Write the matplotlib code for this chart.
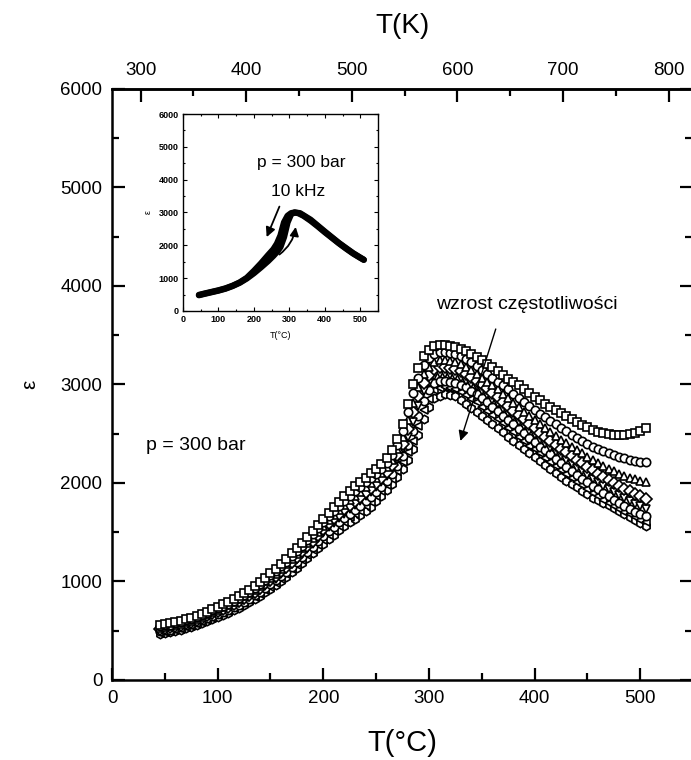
"""Dielectric permittivity vs temperature at p = 300 bar for several frequencies."""

import matplotlib
matplotlib.use("Agg")
import matplotlib.pyplot as plt
from matplotlib.ticker import MultipleLocator

plt.rcParams["font.family"] = ["Liberation Sans", "DejaVu Sans"]

INK = "black"

# temperature of the measurement points (deg C)
temp_c = [45, 50, 55, 60, 65, 70, 75, 80, 85, 90, 95, 100, 105, 110, 115, 120, 125, 130,
          135, 140, 145, 150, 155, 160, 165, 170, 175, 180, 185, 190, 195, 200, 205, 210,
          215, 220, 225, 230, 235, 240, 245, 250, 255, 260, 265, 270, 275, 280, 285, 290,
          295, 300, 305, 310, 315, 320, 325, 330, 335, 340, 345, 350, 355, 360, 365, 370,
          375, 380, 385, 390, 395, 400, 405, 410, 415, 420, 425, 430, 435, 440, 445, 450,
          455, 460, 465, 470, 475, 480, 485, 490, 495, 500, 505]

# permittivity, lowest frequency (top curve) to highest frequency (bottom curve)
eps_f1 = [560, 565, 575, 585, 600, 615, 630, 650, 670, 695,
          720, 745, 770, 795, 820, 850, 880, 915, 950, 995,
          1040, 1085, 1130, 1180, 1230, 1285, 1340, 1395, 1450, 1510,
          1570, 1635, 1700, 1755, 1810, 1865, 1920, 1965, 2010, 2055,
          2100, 2145, 2190, 2250, 2330, 2450, 2600, 2800, 3000, 3170,
          3290, 3350, 3390, 3400, 3400, 3395, 3380, 3360, 3340, 3310,
          3280, 3245, 3210, 3175, 3140, 3100, 3060, 3025, 2990, 2950,
          2910, 2875, 2840, 2805, 2770, 2740, 2710, 2680, 2650, 2620,
          2590, 2565, 2540, 2520, 2510, 2500, 2490, 2490, 2490, 2500,
          2510, 2530, 2560]
eps_f2 = [550, 555, 560, 575, 590, 605, 620, 640, 660, 685,
          710, 730, 750, 775, 800, 830, 860, 895, 930, 975,
          1020, 1065, 1110, 1155, 1200, 1255, 1310, 1365, 1420, 1480,
          1540, 1600, 1660, 1715, 1770, 1820, 1870, 1915, 1960, 2005,
          2050, 2095, 2140, 2200, 2280, 2390, 2530, 2720, 2910, 3070,
          3200, 3265, 3310, 3325, 3330, 3320, 3310, 3285, 3260, 3225,
          3190, 3150, 3110, 3070, 3030, 2990, 2950, 2905, 2860, 2820,
          2780, 2740, 2700, 2665, 2630, 2595, 2560, 2525, 2490, 2460,
          2430, 2400, 2370, 2345, 2320, 2300, 2280, 2265, 2250, 2235,
          2225, 2215, 2210]
eps_f3 = [530, 540, 550, 560, 570, 585, 600, 620, 640, 665,
          690, 715, 740, 765, 790, 820, 850, 880, 910, 955,
          1000, 1040, 1080, 1130, 1180, 1230, 1280, 1335, 1390, 1445,
          1500, 1560, 1620, 1675, 1730, 1780, 1830, 1870, 1910, 1955,
          2000, 2050, 2100, 2160, 2230, 2340, 2470, 2640, 2810, 2970,
          3110, 3180, 3230, 3245, 3250, 3240, 3230, 3205, 3180, 3145,
          3110, 3070, 3030, 2990, 2950, 2905, 2860, 2815, 2770, 2725,
          2680, 2640, 2600, 2560, 2520, 2480, 2440, 2405, 2370, 2335,
          2300, 2265, 2230, 2200, 2170, 2145, 2120, 2095, 2070, 2055,
          2040, 2025, 2010]
eps_f4 = [520, 530, 540, 550, 560, 575, 590, 610, 630, 655,
          680, 700, 720, 745, 770, 800, 830, 860, 890, 935,
          980, 1020, 1060, 1105, 1150, 1200, 1250, 1305, 1360, 1415,
          1470, 1530, 1590, 1640, 1690, 1735, 1780, 1820, 1860, 1905,
          1950, 2000, 2050, 2110, 2180, 2280, 2400, 2550, 2720, 2880,
          3020, 3100, 3160, 3175, 3180, 3170, 3160, 3135, 3110, 3075,
          3040, 3000, 2960, 2915, 2870, 2825, 2780, 2735, 2690, 2645,
          2600, 2555, 2510, 2470, 2430, 2390, 2350, 2310, 2270, 2235,
          2200, 2165, 2130, 2095, 2060, 2030, 2000, 1970, 1940, 1915,
          1890, 1865, 1840]
eps_f5 = [510, 520, 530, 540, 550, 565, 580, 600, 620, 640,
          660, 685, 710, 735, 760, 785, 810, 840, 870, 910,
          950, 990, 1030, 1080, 1130, 1180, 1230, 1280, 1330, 1385,
          1440, 1495, 1550, 1595, 1640, 1690, 1740, 1780, 1820, 1865,
          1910, 1960, 2010, 2070, 2140, 2230, 2340, 2470, 2620, 2780,
          2930, 3020, 3090, 3105, 3110, 3100, 3090, 3065, 3040, 3005,
          2970, 2930, 2890, 2845, 2800, 2755, 2710, 2665, 2620, 2575,
          2530, 2485, 2440, 2400, 2360, 2315, 2270, 2230, 2190, 2155,
          2120, 2080, 2040, 2005, 1970, 1940, 1910, 1880, 1850, 1820,
          1790, 1765, 1740]
eps_f6 = [500, 505, 510, 525, 540, 555, 570, 590, 610, 630,
          650, 670, 690, 715, 740, 765, 790, 825, 860, 895,
          930, 970, 1010, 1055, 1100, 1150, 1200, 1250, 1300, 1355,
          1410, 1460, 1510, 1555, 1600, 1645, 1690, 1730, 1770, 1815,
          1860, 1910, 1960, 2020, 2090, 2170, 2270, 2390, 2530, 2680,
          2830, 2940, 3020, 3035, 3040, 3030, 3020, 2995, 2970, 2935,
          2900, 2860, 2820, 2775, 2730, 2685, 2640, 2595, 2550, 2505,
          2460, 2415, 2370, 2330, 2290, 2245, 2200, 2160, 2120, 2080,
          2040, 2005, 1970, 1935, 1900, 1865, 1830, 1800, 1770, 1740,
          1710, 1685, 1660]
eps_f7 = [480, 490, 500, 510, 520, 535, 550, 570, 590, 610,
          630, 655, 680, 705, 730, 755, 780, 810, 840, 875,
          910, 945, 980, 1030, 1080, 1125, 1170, 1220, 1270, 1320,
          1370, 1420, 1470, 1515, 1560, 1605, 1650, 1685, 1720, 1765,
          1810, 1865, 1920, 1980, 2040, 2120, 2210, 2310, 2430, 2580,
          2740, 2850, 2940, 2960, 2970, 2960, 2950, 2920, 2890, 2855,
          2820, 2775, 2730, 2690, 2650, 2605, 2560, 2515, 2470, 2425,
          2380, 2340, 2300, 2255, 2210, 2170, 2130, 2090, 2050, 2015,
          1980, 1940, 1900, 1865, 1830, 1800, 1770, 1740, 1710, 1680,
          1650, 1625, 1600]
eps_f8 = [470, 480, 490, 500, 510, 525, 540, 560, 580, 600,
          620, 640, 660, 685, 710, 735, 760, 790, 820, 855,
          890, 925, 960, 1005, 1050, 1095, 1140, 1190, 1240, 1290,
          1340, 1385, 1430, 1475, 1520, 1560, 1600, 1635, 1670, 1715,
          1760, 1815, 1870, 1930, 1990, 2060, 2140, 2230, 2340, 2490,
          2650, 2770, 2860, 2885, 2900, 2895, 2880, 2845, 2800, 2760,
          2720, 2680, 2640, 2600, 2560, 2515, 2470, 2430, 2390, 2345,
          2300, 2260, 2220, 2180, 2140, 2100, 2060, 2025, 1990, 1955,
          1920, 1885, 1850, 1825, 1800, 1775, 1750, 1720, 1690, 1655,
          1620, 1590, 1560]
series = [eps_f1, eps_f2, eps_f3, eps_f4, eps_f5, eps_f6, eps_f7, eps_f8]
markers = ["s", "o", "^", "D", "v", "o", "<", "h"]

# inset: 10 kHz, heating and cooling runs
inset_heat_t = [45, 60, 80, 100, 120, 140, 160, 180, 200, 220, 240, 255, 265, 275, 285, 295,
                305, 315, 325, 340, 360, 380, 400, 420, 440, 460, 480, 500, 510]
inset_heat_eps = [480, 520, 570, 620, 680, 760, 860, 990, 1150, 1330, 1520, 1680, 1800, 1950,
                  2250, 2700, 2950, 3000, 2980, 2900, 2750, 2580, 2400, 2230, 2060, 1900, 1750, 1620, 1560]
inset_cool_t = [510, 480, 440, 400, 360, 330, 315, 305, 295, 285, 275, 265, 255, 240, 220, 200,
                180, 160, 140, 120, 100, 80, 60, 45]
inset_cool_eps = [1560, 1760, 2070, 2420, 2780, 2980, 3000, 2980, 2900, 2700, 2300, 2050, 1880,
                  1700, 1450, 1220, 1010, 870, 770, 690, 630, 580, 530, 490]

fig = plt.figure(figsize=(6.91, 7.60), dpi=100, facecolor="white")
ax = fig.add_axes([0.1621, 0.1053, 0.8394, 0.7776])

for values, marker in zip(series[::-1], markers[::-1]):
    ax.plot(temp_c, values, linestyle="none", marker=marker, markersize=6.0,
            markerfacecolor="white", markeredgecolor=INK, markeredgewidth=1.2)

ax.set_xlim(0, 549)
ax.set_ylim(0, 6000)
ax.xaxis.set_major_locator(MultipleLocator(100))
ax.xaxis.set_minor_locator(MultipleLocator(50))
ax.yaxis.set_major_locator(MultipleLocator(1000))
ax.yaxis.set_minor_locator(MultipleLocator(500))
ax.tick_params(which="both", direction="in", right=True, width=1.6, labelsize=13.5, pad=7)
ax.tick_params(which="major", length=9)
ax.tick_params(which="minor", length=5)
for spine in ax.spines.values():
    spine.set_linewidth(1.8)
ax.set_xlabel("T(°C)", fontsize=21, labelpad=16)
ax.set_ylabel("ε", fontsize=15)
ax.yaxis.set_label_coords(-0.125, 0.5)

top = ax.secondary_xaxis("top", functions=(lambda c: c + 273, lambda k: k - 273))
top.xaxis.set_major_locator(MultipleLocator(100))
top.xaxis.set_minor_locator(MultipleLocator(50))
top.tick_params(which="both", direction="in", width=1.6, labelsize=13.5, pad=7)
top.tick_params(which="major", length=9)
top.tick_params(which="minor", length=5)
top.spines["top"].set_linewidth(1.8)
top.set_xlabel("T(K)", fontsize=20, labelpad=21)

ax.text(32, 2385, "p = 300 bar", fontsize=14, ha="left", va="center")
ax.text(393, 3810, "wzrost częstotliwości", fontsize=14, ha="center", va="center")
ax.annotate("", xy=(329, 2400), xytext=(364, 3590),
            arrowprops=dict(arrowstyle="-|>", color=INK, lw=1.0, mutation_scale=15))

# inset
ins = fig.add_axes([0.2648, 0.5908, 0.2822, 0.2592])
ins.plot(inset_heat_t, inset_heat_eps, color=INK, lw=4.5, solid_capstyle="round")
ins.plot(inset_cool_t, inset_cool_eps, color=INK, lw=4.5, solid_capstyle="round")
ins.set_xlim(0, 550)
ins.set_ylim(0, 6000)
ins.xaxis.set_major_locator(MultipleLocator(100))
ins.xaxis.set_minor_locator(MultipleLocator(50))
ins.yaxis.set_major_locator(MultipleLocator(1000))
ins.yaxis.set_minor_locator(MultipleLocator(500))
ins.tick_params(which="both", direction="in", top=True, right=True, labelsize=6.5,
                width=0.8, pad=3)
ins.tick_params(which="major", length=3)
ins.tick_params(which="minor", length=1.5)
for label in ins.get_xticklabels() + ins.get_yticklabels():
    label.set_fontweight("bold")
for spine in ins.spines.values():
    spine.set_linewidth(1.0)
ins.set_xlabel("T(°C)", fontsize=6.5, labelpad=5)
ins.set_ylabel("ε", fontsize=6.5, labelpad=4)
ins.text(335, 4530, "p = 300 bar", fontsize=12.5, ha="center", va="center")
ins.text(325, 3640, "10 kHz", fontsize=12.5, ha="center", va="center")
ins.annotate("", xy=(236, 2250), xytext=(272, 3180),
             arrowprops=dict(arrowstyle="-|>", color=INK, lw=1.3, mutation_scale=14,
                             shrinkA=0, shrinkB=0))
ins.annotate("", xy=(318, 2560), xytext=(272, 1720),
             arrowprops=dict(arrowstyle="-|>", color=INK, lw=1.3, mutation_scale=13,
                             shrinkA=0, shrinkB=0, connectionstyle="arc3,rad=0.2"))

fig.savefig("out.png", dpi=100, facecolor="white")
